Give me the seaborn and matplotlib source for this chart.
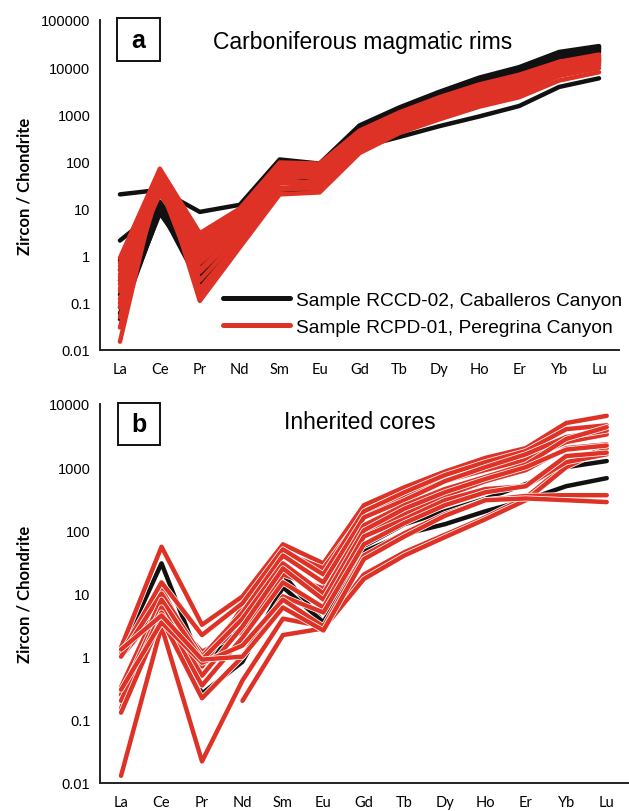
import numpy as np
import pandas as pd
import matplotlib
matplotlib.use("Agg")
import matplotlib.pyplot as plt
import matplotlib.patheffects as pe
from matplotlib.patches import Rectangle
from matplotlib.lines import Line2D
from matplotlib.ticker import FixedLocator, NullFormatter
import seaborn as sns

elements = ["La", "Ce", "Pr", "Nd", "Sm", "Eu", "Gd", "Tb", "Dy", "Ho", "Er", "Yb", "Lu"]

# panel a - Carboniferous magmatic rims
rims_rccd = [
    [20, 25, 8.5, 12, 110, 90, 580, 1400, 3000, 6000, 10000, 21000, 28000],
    [2.1, 10, 0.35, 2.5, 25, 25, 200, 330, 560, 900, 1500, 3800, 5800],
    [0.8, 12, 1.4, 6, 90, 80, 550, 1300, 2800, 5500, 9500, 20000, 27000],
    [0.5, 14, 0.9, 5, 80, 55, 500, 1200, 2600, 5000, 9000, 19000, 25000],
    [0.3, 9, 0.6, 4, 60, 50, 450, 1100, 2400, 4700, 8500, 18000, 24000],
    [0.15, 11, 0.3, 3, 50, 40, 480, 1150, 2500, 4800, 8800, 18500, 23000],
    [0.08, 10, 0.25, 2.5, 40, 30, 420, 1050, 2300, 4500, 8000, 17000, 22000],
    [0.045, 9, 1.2, 5, 70, 60, 520, 1250, 2700, 5200, 9200, 19500, 26000],
    [0.06, 8, 0.5, 3.5, 45, 25, 400, 1000, 2200, 4300, 7800, 16000, 21000],
]
rims_rcpd = [
    [0.015, 60, 0.11, 1.5, 20, 22, 150, 400, 780, 1450, 2300, 5200, 7800],
    [0.9, 70, 3.0, 10, 95, 90, 450, 1100, 2300, 4300, 6900, 13000, 18500],
    [0.6, 65, 2.2, 8, 85, 85, 420, 1000, 2100, 4000, 6500, 12500, 17500],
    [0.4, 55, 1.6, 7, 75, 70, 380, 950, 1900, 3700, 6000, 11500, 16000],
    [0.25, 50, 1.0, 5, 60, 55, 330, 850, 1700, 3300, 5500, 11000, 15000],
    [0.18, 45, 0.7, 4, 50, 45, 300, 750, 1500, 3000, 5000, 10000, 14000],
    [0.12, 40, 0.45, 3, 40, 35, 260, 650, 1300, 2600, 4400, 9000, 13000],
    [0.08, 35, 0.3, 2.5, 35, 30, 230, 580, 1150, 2300, 3900, 8500, 12000],
    [0.05, 30, 0.2, 2, 28, 26, 200, 500, 1000, 2000, 3400, 7500, 11000],
    [0.7, 25, 2.6, 9, 90, 60, 400, 900, 1800, 3500, 5800, 12000, 16500],
    [0.3, 20, 1.3, 6, 65, 40, 350, 800, 1600, 3100, 5200, 10500, 14500],
    [0.2, 68, 0.9, 4.5, 55, 75, 280, 700, 1400, 2800, 4700, 9500, 13500],
    [0.1, 58, 0.5, 3.5, 45, 50, 250, 620, 1250, 2500, 4200, 8800, 12500],
    [0.03, 48, 0.15, 1.8, 25, 28, 180, 450, 900, 1700, 2800, 6500, 9500],
    [0.5, 38, 1.9, 6.5, 70, 65, 360, 880, 1750, 3400, 5600, 11200, 15500],
    [0.35, 62, 1.2, 5.5, 80, 80, 310, 780, 1550, 3000, 5100, 10200, 14200],
]

# panel b - inherited cores
cores_rccd = [
    [1.2, 30, 0.7, 3.0, 20, 3.5, 56, 125, 200, 315, 540, 1000, 1250],
    [0.3, 7, 0.26, 0.83, 12.6, 3.5, 46, 87, 125, 200, 300, 500, 670],
]
cores_rcpd = [
    [0.013, 3.0, 0.022, 0.42, 4.0, 3.0, 20, 45, 85, 160, 330, 1100, 2100],
    [1.4, 55, 3.2, 9.0, 60, 30, 250, 480, 850, 1400, 2000, 5000, 6500],
    [1.1, 15, 2.2, 7.0, 50, 20, 200, 400, 750, 1200, 1800, 4000, 4600],
    [1.0, 10, 1.0, 5.0, 40, 15, 160, 300, 600, 1000, 1600, 3000, 3800],
    [0.33, 8, 0.9, 4.0, 30, 10, 120, 250, 450, 700, 1100, 2800, 4300],
    [0.25, 6, 0.5, 3.0, 25, 8, 100, 220, 400, 650, 1000, 1900, 2200],
    [0.2, 5, 0.35, 2.0, 15, 6, 80, 150, 300, 450, 500, 1200, 1600],
    [0.13, 4, 0.22, 1.0, 9, 5, 60, 130, 250, 400, 500, 1500, 1700],
    [0.3, 3.5, 0.8, 1.5, 8, 3, 40, 90, 180, 300, 350, 360, 360],
    [1.3, 4.5, 0.9, 1.0, 6, 2.6, 35, 80, 170, 300, 320, 300, 280],
    [np.nan, np.nan, np.nan, 0.2, 2.2, 2.8, 17, 40, 78, 150, 300, 1000, 2000],
    [0.15, 12, 0.7, 6, 45, 25, 180, 350, 600, 900, 1300, 2500, 3300],
    [1.0, 6, 1.2, 2.5, 20, 12, 90, 180, 350, 600, 900, 2000, 2300],
]

labels = ["Sample RCCD-02, Caballeros Canyon", "Sample RCPD-01, Peregrina Canyon"]
colors = {"RCCD": "#111111", "RCPD": "#DF3226"}


def to_long(black, red):
    rows = []
    for name, group in (("RCCD", black), ("RCPD", red)):
        for i, vals in enumerate(group):
            for j, v in enumerate(vals):
                if not np.isnan(v):
                    rows.append({"sample": name, "grain": f"{name}_{i}", "pos": j, "value": v})
    return pd.DataFrame(rows)


sns.set_style("white")
plt.rcParams["font.family"] = ["Liberation Sans", "DejaVu Sans"]
plt.rcParams.update({"text.color": "black", "axes.labelcolor": "black",
                     "xtick.color": "black", "ytick.color": "black"})

fig = plt.figure(figsize=(6.29, 8.12), dpi=100)
W, H = 629, 812


def px_axes(x0, y0, x1, y1):
    return fig.add_axes([x0 / W, 1 - y1 / H, (x1 - x0) / W, (y1 - y0) / H])


ax_a = px_axes(100, 21, 619, 351)
ax_b = px_axes(100, 405, 629, 784)

stroke_b = [pe.Stroke(linewidth=4.3, foreground="white"), pe.Normal()]

panels = [
    (ax_a, rims_rccd, rims_rcpd, (0.01, 100000), (-0.5, 12.5), None,
     "Carboniferous magmatic rims", (363, 42)),
    (ax_b, cores_rccd, cores_rcpd, (0.01, 10000), (-0.52, 12.55), stroke_b,
     "Inherited cores", (360, 423)),
]

for ax, black, red, ylim, xlim, stroke, title, tpos in panels:
    df = to_long(black, red)
    kw = {"path_effects": stroke} if stroke else {}
    sns.lineplot(data=df, x="pos", y="value", hue="sample", units="grain",
                 estimator=None, palette=colors, hue_order=["RCCD", "RCPD"],
                 linewidth=3.2, legend=False, ax=ax, sort=False, **kw)
    ax.set_yscale("log")
    ax.set_ylim(*ylim)
    ax.set_xlim(*xlim)
    ax.set_xlabel("")
    ax.set_ylabel("Zircon / Chondrite", family=["Lato", "DejaVu Sans"],
                  fontweight="bold", fontsize=12)
    ax.set_xticks(range(len(elements)))
    ax.set_xticklabels(elements, family=["Lato", "DejaVu Sans"], fontsize=10.5)
    ax.tick_params(axis="x", direction="in", length=5, width=1.2, pad=9, colors="#222222",
                   labelcolor="black")
    lo, hi = int(np.log10(ylim[0])), int(np.log10(ylim[1]))
    majors = [10.0 ** k for k in range(lo, hi + 1)]
    minors = [m * 10.0 ** k for k in range(lo, hi) for m in range(2, 10)]
    ax.yaxis.set_major_locator(FixedLocator(majors))
    ax.yaxis.set_minor_locator(FixedLocator(minors))
    ax.yaxis.set_minor_formatter(NullFormatter())
    ax.yaxis.set_major_formatter(matplotlib.ticker.FuncFormatter(lambda v, p: f"{v:g}"))
    ax.tick_params(axis="y", which="major", direction="out", length=5, width=1.2,
                   labelsize=10.5, pad=2)
    ax.tick_params(axis="y", which="minor", direction="out", length=3, width=0.8)
    for s in ("top", "right"):
        ax.spines[s].set_visible(False)
    for s in ("left", "bottom"):
        ax.spines[s].set_color("#222222")
        ax.spines[s].set_linewidth(1.4)
    fig.text(tpos[0] / W, 1 - tpos[1] / H, title, ha="center", va="center", fontsize=16.5)

ax_a.yaxis.set_label_coords((33 - 100) / 519, 0.5)
ax_b.yaxis.set_label_coords((33 - 100) / 529, 0.5)

# panel letter boxes
for (x0, y0, x1, y1), letter in (((117, 19, 160, 62), "a"), ((118, 404, 160, 446), "b")):
    fig.patches.append(Rectangle((x0 / W, 1 - y1 / H), (x1 - x0) / W, (y1 - y0) / H,
                                 transform=fig.transFigure, fill=False,
                                 edgecolor="#111111", linewidth=1.4))
    fig.text((x0 + x1) / 2 / W, 1 - (y0 + y1) / 2 / H, letter, ha="center", va="center",
             fontsize=18, fontweight="bold")

handles = [Line2D([0], [0], color=colors["RCCD"], lw=3.6),
           Line2D([0], [0], color=colors["RCPD"], lw=3.6)]
ax_a.legend(handles, labels, loc="lower right", bbox_to_anchor=(1.04, -0.01),
            frameon=False, fontsize=13.8, handlelength=3.5, handletextpad=0.35,
            labelspacing=0.5)

fig.savefig("out.png", dpi=100)
